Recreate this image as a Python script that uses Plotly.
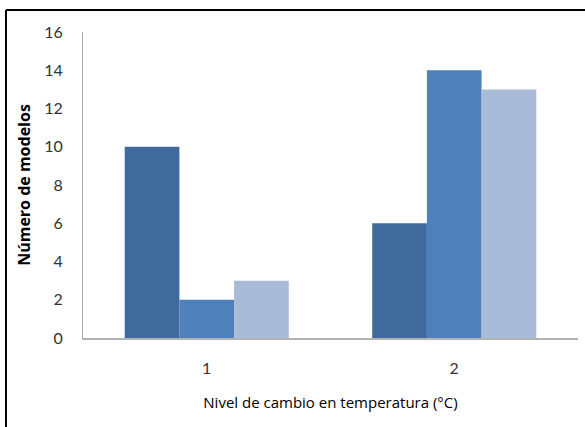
import plotly.graph_objects as go

categories = ["1", "2"]
serie_a = [10, 6]
serie_b = [2, 14]
serie_c = [3, 13]
colors = ["#406A9B", "#4E80BC", "#AABBD8"]
y_ticks = [0, 2, 4, 6, 8, 10, 12, 14, 16]

font_tick = "Lato, sans-serif"
font_title = "Open Sans, Lato, sans-serif"

fig = go.Figure()
for vals, col in zip([serie_a, serie_b, serie_c], colors):
    fig.add_trace(go.Bar(x=categories, y=vals, marker=dict(color=col, line=dict(width=0)),
                         showlegend=False))

fig.update_layout(
    width=585, height=427, autosize=False,
    margin=dict(l=83, r=7, t=32, b=89),
    paper_bgcolor="white", plot_bgcolor="white",
    barmode="group", bargap=0.337, bargroupgap=0,
    xaxis=dict(
        type="category", showline=True, linecolor="#B3B3B3", linewidth=1.5,
        ticks="", showgrid=False, ticklabelstandoff=15,
        tickfont=dict(family=font_tick, size=16, color="#333"),
        title=dict(text="Nivel de cambio en temperatura (°C)", standoff=22,
                   font=dict(family=font_title, size=15, color="#000")),
    ),
    yaxis=dict(
        range=[0, 16], tickvals=y_ticks, showline=True, linecolor="#A6A6A6", linewidth=1,
        ticks="", showgrid=False, zeroline=False, ticklabelstandoff=16,
        tickfont=dict(family=font_tick, size=16, color="#333"),
        title=dict(text="<b>Número de modelos</b>", standoff=9,
                   font=dict(family=font_title, size=16, color="#000")),
    ),
    shapes=[
        dict(type="line", xref="paper", yref="paper", x0=-0.1556, x1=1.03,
             y0=1.0719, y1=1.0719, line=dict(color="black", width=2)),
        dict(type="line", xref="paper", yref="paper", x0=-0.1556, x1=-0.1556,
             y0=1.0719, y1=-0.32, line=dict(color="black", width=2)),
    ],
)

fig.write_html("out.html")
